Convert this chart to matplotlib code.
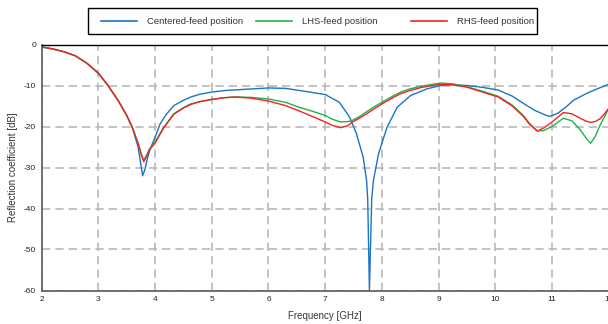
import matplotlib
matplotlib.use("Agg")
import matplotlib.pyplot as plt
from matplotlib.lines import Line2D
from matplotlib.patches import Rectangle

plt.rcParams['font.family'] = ['Liberation Sans', 'DejaVu Sans']
plt.rcParams['axes.unicode_minus'] = False

# Centered-feed
freq_c = [2.0, 2.2, 2.4, 2.6, 2.8, 3.0, 3.17, 3.35, 3.5, 3.6, 3.7, 3.74, 3.78,
          3.82, 3.86, 3.91, 4.0, 4.09, 4.2, 4.33, 4.5, 4.63, 4.8, 5.0, 5.25,
          5.5, 6.0, 6.3, 6.54, 7.0, 7.25, 7.43, 7.55, 7.67, 7.73, 7.75, 7.78,
          7.82, 7.85, 7.94, 8.09, 8.27, 8.51, 8.8, 9.04, 9.25, 9.5, 9.75,
          10.05, 10.3, 10.5, 10.7, 10.9, 10.97, 11.1, 11.25, 11.38, 11.6,
          11.8, 12.0]
s11_c = [-0.6, -1.1, -1.8, -2.8, -4.6, -7.0, -10.0, -13.7, -17.3, -20.3,
         -25.0, -28.5, -32.0, -30.5, -28.0, -25.6, -22.6, -19.3, -17.0,
         -14.9, -13.6, -12.8, -12.1, -11.6, -11.2, -11.0, -10.6, -10.7,
         -11.2, -12.2, -14.1, -17.7, -21.7, -27.5, -33.2, -37.8, -60.0,
         -37.8, -33.2, -26.7, -20.2, -15.3, -12.4, -10.8, -10.0, -9.8,
         -10.0, -10.4, -11.1, -12.6, -14.4, -16.1, -17.3, -17.5, -16.8,
         -15.2, -13.6, -12.0, -10.8, -9.7]

# LHS / RHS feed share the same frequency points
freq_s = [2.0, 2.2, 2.4, 2.6, 2.8, 3.0, 3.17, 3.35, 3.5, 3.6, 3.7, 3.76, 3.8,
          3.85, 3.9, 4.0, 4.15, 4.33, 4.5, 4.63, 4.8, 5.0, 5.2, 5.41, 5.7,
          6.0, 6.3, 6.54, 6.8, 7.0, 7.12, 7.27, 7.4, 7.48, 7.6, 7.72, 7.85,
          8.0, 8.15, 8.33, 8.5, 8.69, 8.85, 9.04, 9.25, 9.5, 9.75, 10.05,
          10.3, 10.5, 10.6, 10.74, 10.85, 11.0, 11.2, 11.35, 11.5, 11.6,
          11.68, 11.76, 11.85, 11.93, 12.0]
s11_lhs = [-0.6, -1.1, -1.8, -2.8, -4.6, -7.0, -10.0, -13.7, -17.3, -20.3,
           -24.0, -26.8, -28.2, -27.0, -25.5, -23.8, -20.2, -16.9, -15.4,
           -14.5, -13.9, -13.4, -13.0, -12.8, -12.9, -13.3, -14.1, -15.3,
           -16.4, -17.3, -18.2, -18.9, -18.8, -18.5, -17.6, -16.5, -15.3,
           -14.1, -12.9, -11.6, -10.8, -10.2, -9.8, -9.4, -9.6, -10.3, -11.3,
           -12.6, -14.8, -17.4, -19.2, -21.1, -21.0, -20.0, -18.0, -18.6,
           -20.8, -22.8, -24.1, -22.5, -19.6, -17.5, -15.6]
s11_rhs = [-0.6, -1.1, -1.8, -2.8, -4.6, -7.0, -10.0, -13.7, -17.3, -20.3,
           -24.2, -27.1, -28.6, -27.3, -25.7, -24.0, -20.4, -17.0, -15.5,
           -14.6, -13.9, -13.4, -13.0, -12.8, -13.1, -13.8, -14.9, -16.2,
           -17.7, -18.9, -19.7, -20.3, -19.8, -18.9, -18.0, -17.0, -15.8,
           -14.5, -13.3, -12.0, -11.2, -10.5, -10.1, -9.7, -9.8, -10.4,
           -11.5, -12.8, -15.0, -17.6, -19.4, -21.1, -20.4, -18.9, -16.6,
           -16.9, -18.0, -18.7, -19.0, -18.8, -18.1, -16.8, -15.6]

labels = ['Centered-feed position', 'LHS-feed position', 'RHS-feed position']
colors = ['#1a74c6', '#22b24c', '#f42222']

W, H = 608, 324
fig = plt.figure(figsize=(W / 100, H / 100), dpi=100)
ax = fig.add_axes([41.7 / W, 33.5 / H, 567 / W, 246 / H])

series = [(freq_c, s11_c), (freq_s, s11_lhs), (freq_s, s11_rhs)]
for (f, s), c in zip(series, colors):
    ax.plot(f, s, color=c, lw=1.0, solid_joinstyle='round')

ax.set_xlim(2, 12)
ax.set_ylim(-60, 0)
ax.set_xticks(range(2, 13))
ax.set_yticks(range(-60, 1, 10))
ax.grid(True, color='#b9b9b9', lw=1.2, linestyle=(0, (5, 3)))
ax.set_axisbelow(True)
ax.tick_params(length=0, labelsize=6, colors='#222222')
ax.tick_params(axis='y', pad=4)
ax.tick_params(axis='x', pad=4)

ax.spines['right'].set_visible(False)
ax.spines['top'].set_color('black')
ax.spines['top'].set_linewidth(1.0)
for sp in ['left', 'bottom']:
    ax.spines[sp].set_color('#5a5a5a')
    ax.spines[sp].set_linewidth(1.2)

ax.set_xlabel('Frequency [GHz]', fontsize=7, color='#333333', labelpad=6)
ax.set_ylabel('Reflection coefficient [dB]', fontsize=7, color='#333333', labelpad=4)

# legend box drawn by hand (equal slots like the original)
def fx(x):
    return x / W

def fy(y):
    return 1 - y / H

fig.patches.append(Rectangle((fx(88), fy(34)), fx(537) - fx(88), fy(8) - fy(34),
                             transform=fig.transFigure, fill=False,
                             edgecolor='black', lw=1.0))
starts = [101, 256, 411]
for x0, lab, c in zip(starts, labels, colors):
    fig.lines.append(Line2D([fx(x0), fx(x0 + 36)], [fy(21), fy(21)],
                            transform=fig.transFigure, color=c, lw=1.2))
    fig.text(fx(x0 + 46), fy(21), lab, fontsize=6.8, color='#333333', va='center')

fig.savefig('out.png', dpi=100)
